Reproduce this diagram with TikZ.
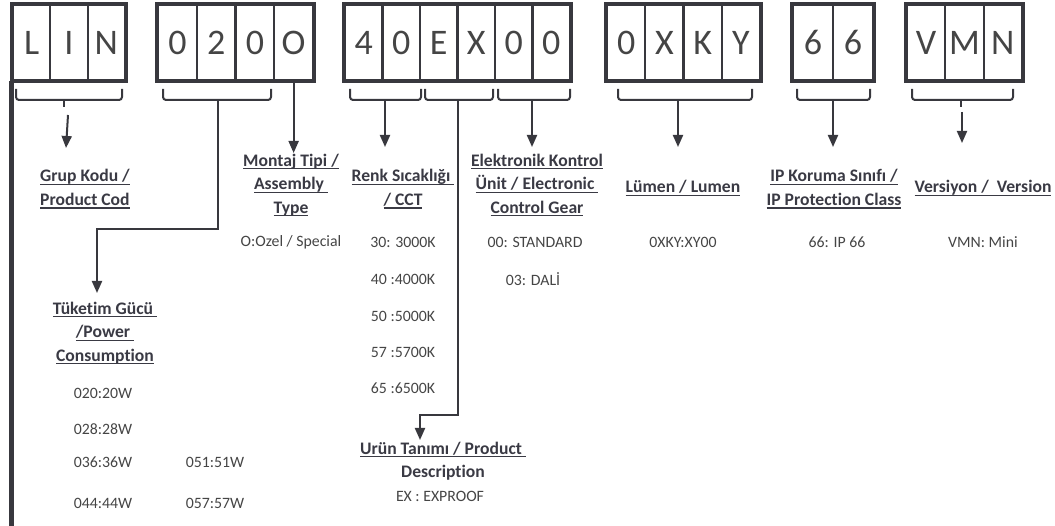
\documentclass[tikz,border=0pt]{standalone}
\usepackage{fontspec}
\setmainfont{Carlito}[Ligatures=NoCommon]
\newsavebox{\ulnbox}
\newcommand{\uln}[1]{\sbox{\ulnbox}{#1}\rlap{\rule[-3.2pt]{\wd\ulnbox}{1.1pt}}\usebox{\ulnbox}}
\usetikzlibrary{arrows.meta}
\definecolor{ink}{HTML}{38383E}
\definecolor{labc}{HTML}{3A3A44}
\definecolor{valc}{HTML}{454545}
\tikzset{
  cell/.style={draw=ink, line width=2.2pt, minimum height=75pt, inner sep=0pt,
    font=\fontsize{36}{40}\selectfont, text=valc},
  outer/.style={draw=ink, line width=4.5pt},
  brc/.style={draw=ink, line width=2pt, rounded corners=3pt},
  conn/.style={draw=ink, line width=2pt},
  arr/.style={conn, -{Triangle[width=10pt,length=12pt]}},
  lab/.style={font=\fontsize{17.6}{23.5}\selectfont\bfseries, text=labc, align=center, inner sep=0pt},
  val/.style={font=\fontsize{15.8}{18}\selectfont, text=valc, inner sep=0pt},
}
\newcommand{\codebox}[4]{%
  \foreach \l [count=\i] in {#4} {
    \node[cell, minimum width=#3] (#1-\i) at ({#2+(\i-0.5)*#3}, 42.5) {\l};
  }
}
\newcommand{\bracket}[2]{%
  \draw[brc] (#1,89) -- (#1,100) -- (#2,100) -- (#2,89);
}
\begin{document}
\begin{tikzpicture}[x=1pt, y=-1pt]
\useasboundingbox (0,0) rectangle (1055,526);
% code boxes
\codebox{g1}{13}{37.33}{L,I,N}
\codebox{g2}{158}{38.75}{0,2,0,O}
\codebox{g3}{345}{37.5}{4,0,E,X,0,0}
\codebox{g4}{607}{38.25}{0,X,K,Y}
\codebox{g5}{793}{40}{6,6}
\codebox{g6}{907}{38.33}{V,M,N}
\draw[outer] (g1-1.north west) rectangle (g1-3.south east);
\draw[outer] (g2-1.north west) rectangle (g2-4.south east);
\draw[outer] (g3-1.north west) rectangle (g3-6.south east);
\draw[outer] (g4-1.north west) rectangle (g4-4.south east);
\draw[outer] (g5-1.north west) rectangle (g5-2.south east);
\draw[outer] (g6-1.north west) rectangle (g6-3.south east);
% left long line
\coordinate (lbot) at (12,526);
\draw[draw=ink, line width=5pt] (g1-1.south west) -- (g1-1.south west |- lbot);
% brackets
\bracket{16}{122}
\bracket{163}{271}
\bracket{350}{421}
\bracket{425}{493}
\bracket{498}{570}
\bracket{618}{752}
\bracket{797}{870}
\bracket{912}{1013}
\coordinate (b1) at (64,100);
\coordinate (b2) at (218,100);
\coordinate (b3a) at (385,100);
\coordinate (b3b) at (458,100);
\coordinate (b3c) at (532,100);
\coordinate (b4) at (678,100);
\coordinate (b5) at (833,100);
\coordinate (b6) at (961,100);
% labels
\node[lab, align=left, anchor=west] (grup) at (40,189) {\uln{Grup Kodu /}\\\uln{Product Cod}};
\node[lab] (montaj) at (291,185) {\uln{Montaj Tipi /}\\\uln{Assembly\ }\\\uln{Type}};
\node[lab] (renk) at (403,189) {\uln{Renk Sıcaklığı\ }\\\uln{/ CCT}};
\node[lab] (elek) at (537,185) {\uln{Elektronik Kontrol}\\\uln{Ünit / Electronic\ }\\\uln{Control Gear}};
\node[lab] (lumen) at (683,188) {\uln{Lümen / Lumen}};
\node[lab] (ip) at (834,189) {\uln{IP Koruma Sınıfı /}\\\uln{IP Protection Class}};
\node[lab] (vers) at (983,188) {\uln{Versiyon /\ \ Version}};
\node[lab] (tuk) at (105,333) {\uln{Tüketim Gücü\ }\\\uln{/Power\ }\\\uln{Consumption}};
\node[lab] (urun) at (443,461) {\uln{Urün Tanımı / Product\ }\\Description};
% values
\node[val] (ozel) at (291,242) {O:Ozel / Special};
\node[val] (c30) at (403,242) {30: 3000K};
\node[val] (c40) at (403,279) {40 :4000K};
\node[val] (c50) at (403,316) {50 :5000K};
\node[val] (c57) at (403,352) {57 :5700K};
\node[val] (c65) at (403,388) {65 :6500K};
\node[val] (std) at (535,242) {00: STANDARD};
\node[val] (dali) at (533,279) {03: DALİ};
\node[val] (lmv) at (683,242) {0XKY:XY00};
\node[val] (ipv) at (837,242) {66: IP 66};
\node[val] (vmn) at (983,242) {VMN: Mini};
\node[val] (w20) at (103,393) {020:20W};
\node[val] (w28) at (103,429) {028:28W};
\node[val] (w36) at (103,462) {036:36W};
\node[val] (w51) at (215,462) {051:51W};
\node[val] (w44) at (103,503) {044:44W};
\node[val] (w57) at (215,503) {057:57W};
\node[val] (exp) at (440,496) {EX : EXPROOF};
% connectors
\coordinate (a1s) at (68,115);
\coordinate (a1t) at (66,148);
\draw[conn] (b1) -- ++(0,7);
\draw[arr] (a1s) -- (a1t);
\coordinate (a2t) at (97,293);
\draw[arr] (b2) |- (97,229) -- (a2t);
\coordinate (amt) at (g2-4.south |- 0,153);
\draw[arr] (g2-4.south) -- (amt);
\coordinate (a3at) at (385,147);
\draw[arr] (b3a) -- (a3at);
\coordinate (a3bt) at (420,440);
\draw[arr] (b3b) |- (420,415) -- (a3bt);
\coordinate (a3ct) at (532,147);
\draw[arr] (b3c) -- (a3ct);
\coordinate (a4t) at (678,147);
\draw[arr] (b4) -- (a4t);
\coordinate (a5t) at (833,147);
\draw[arr] (b5) -- (a5t);
\draw[conn] (b6) -- ++(0,7);
\coordinate (a6s) at (962,112);
\coordinate (a6t) at (962,143);
\draw[arr] (a6s) -- (a6t);
\end{tikzpicture}
\end{document}
